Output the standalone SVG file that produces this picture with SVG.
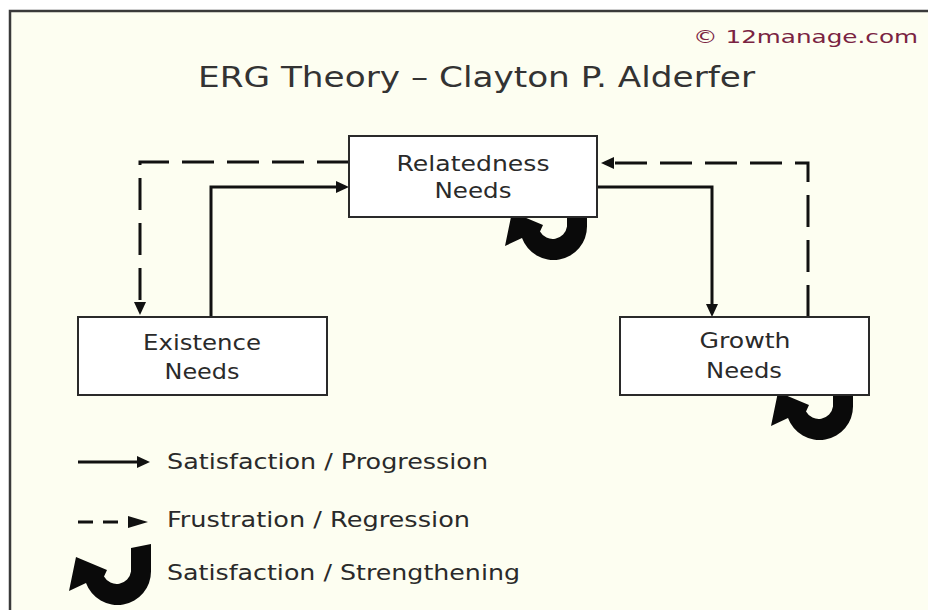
<svg xmlns="http://www.w3.org/2000/svg" width="928" height="610" viewBox="0 0 928 610">
<style>
  .bg { fill: #fdfef1; }
  .frame { fill: none; stroke: #3a3a3a; stroke-width: 2.5; }
  .box { fill: #ffffff; stroke: #2a2a2a; stroke-width: 2; }
  .lbl { font-family: "DejaVu Sans", Verdana, sans-serif; font-size: 22px; fill: #2a2a2a; text-anchor: middle; }
  .leg { font-family: "DejaVu Sans", Verdana, sans-serif; font-size: 22px; fill: #2a2a2a; }
  .title { font-family: "DejaVu Sans", Verdana, sans-serif; font-size: 28px; fill: #333; }
  .copy { font-family: "DejaVu Sans", Verdana, sans-serif; font-size: 17px; fill: #7a2342; }
  .solid { fill: none; stroke: #111; stroke-width: 3; marker-end: url(#ah); }
  .dash { fill: none; stroke: #111; stroke-width: 3; stroke-dasharray: 32 13; marker-end: url(#ah); }
  .dashleg { fill: none; stroke: #111; stroke-width: 3; stroke-dasharray: 15 10; }
  .loop { fill: #0a0a0a; }
</style>
<defs>
  <marker id="ah" markerUnits="userSpaceOnUse" markerWidth="16" markerHeight="14" refX="2" refY="6" orient="auto">
    <path d="M0,0 L13,6 L0,12 Z" fill="#111"/>
  </marker>
  <path id="loopShape" d="M131,548 L151,544 L151,571.5 A33.5,33.5 0 0 1 86,583 L69,591 L76,557 L107,570 L104,576.5 A14.5,14.5 0 0 0 131,571.5 Z"/>
</defs>

<rect x="0" y="0" width="928" height="610" fill="#ffffff"/>
<rect class="bg" x="10" y="11" width="918" height="599"/>
<path class="frame" d="M10,610 V11 H928"/>

<text class="copy" x="693" y="43" textLength="225" lengthAdjust="spacingAndGlyphs">© 12manage.com</text>
<text class="title" x="198" y="87" textLength="557" lengthAdjust="spacingAndGlyphs">ERG Theory – Clayton P. Alderfer</text>

<g id="loops">
  <use href="#loopShape" class="loop" transform="translate(436,-345)"/>
  <use href="#loopShape" class="loop" transform="translate(702,-165)"/>
</g>

<g id="connectors">
  <path class="solid" d="M211,317 V187 H338"/>
  <path class="solid" d="M597,187 H712 V306"/>
  <path class="dash" d="M349,162 H140 V304"/>
  <path class="dash" d="M808,317 V163 H612"/>
</g>

<g id="relatedness">
  <rect class="box" x="349" y="136" width="248" height="81"/>
  <text class="lbl" x="473" y="171" textLength="153" lengthAdjust="spacingAndGlyphs">Relatedness</text>
  <text class="lbl" x="473" y="198" textLength="77" lengthAdjust="spacingAndGlyphs">Needs</text>
</g>

<g id="existence">
  <rect class="box" x="78" y="317" width="249" height="78"/>
  <text class="lbl" x="202" y="350" textLength="118" lengthAdjust="spacingAndGlyphs">Existence</text>
  <text class="lbl" x="202" y="379" textLength="75" lengthAdjust="spacingAndGlyphs">Needs</text>
</g>

<g id="growth">
  <rect class="box" x="620" y="317" width="249" height="78"/>
  <text class="lbl" x="745" y="348" textLength="91" lengthAdjust="spacingAndGlyphs">Growth</text>
  <text class="lbl" x="744" y="378" textLength="76" lengthAdjust="spacingAndGlyphs">Needs</text>
</g>

<g id="legend">
  <path class="solid" d="M78,462 H139"/>
  <text class="leg" x="167" y="469" textLength="321" lengthAdjust="spacingAndGlyphs">Satisfaction / Progression</text>
  <path class="dashleg" d="M78,522 H128"/>
  <path d="M128,516 L148,522 L128,528 Z" fill="#111"/>
  <text class="leg" x="167" y="527" textLength="303" lengthAdjust="spacingAndGlyphs">Frustration / Regression</text>
  <use href="#loopShape" class="loop"/>
  <text class="leg" x="167" y="580" textLength="353" lengthAdjust="spacingAndGlyphs">Satisfaction / Strengthening</text>
</g>
</svg>
